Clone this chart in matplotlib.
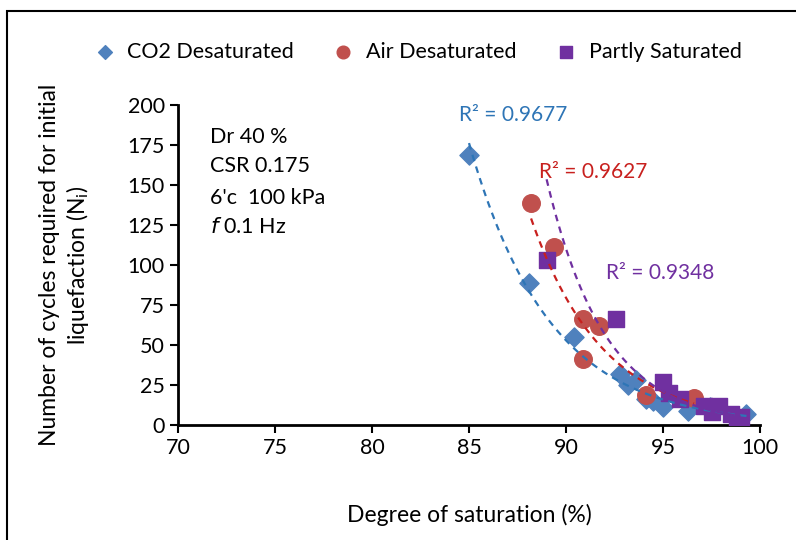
import numpy as np
import matplotlib
matplotlib.use("Agg")
import matplotlib.pyplot as plt
from matplotlib.patches import Rectangle

plt.rcParams['font.family'] = ['Lato', 'DejaVu Sans']

# ---------------------------------------------------------
# DATI
# ---------------------------------------------------------
co2_sr = [85.0, 88.1, 90.4, 92.8, 93.2, 93.6, 94.1, 94.5, 95.0, 96.3, 97.4, 99.3]
co2_n = [169, 89, 55, 32, 25, 28, 16, 15, 11, 9, 11, 7]

air_sr = [88.2, 89.4, 90.9, 91.7, 90.9, 94.1, 96.6]
air_n = [139, 111, 66, 62, 41, 19, 17]

part_sr = [89.0, 92.6, 95.0, 95.3, 95.9, 97.1, 97.5, 97.9, 98.5, 99.0, 98.8]
part_n = [103, 66, 27, 20, 16, 12, 8, 12, 7, 5, 3]

r2_labels = ["R² = 0.9677", "R² = 0.9627", "R² = 0.9348"]

C_BLUE = "#4F81BD"
C_RED = "#C0504D"
C_PURPLE = "#7030A0"
T_BLUE = "#2E75B6"
T_RED = "#C8201E"


def exp_trend(x, y):
    # trendline esponenziale come in Excel (fit lineare su ln y)
    b, a = np.polyfit(x, np.log(y), 1)
    xs = np.linspace(min(x), max(x), 100)
    return xs, np.exp(a + b * xs)


fig = plt.figure(figsize=(7.96, 5.40), dpi=100)
ax = fig.add_axes([0.2236, 0.213, 0.7312, 0.5926])

ax.scatter(co2_sr, co2_n, marker="D", s=95, color=C_BLUE, zorder=3, label="CO2 Desaturated")
ax.scatter(air_sr, air_n, marker="o", s=160, color=C_RED, zorder=3, label="Air Desaturated")
ax.scatter(part_sr, part_n, marker="s", s=135, color=C_PURPLE, zorder=3, label="Partly Saturated")

for (x, y), c in zip([(co2_sr, co2_n), (air_sr, air_n), (part_sr, part_n)],
                     [T_BLUE, T_RED, C_PURPLE]):
    xs, ys = exp_trend(x, y)
    ax.plot(xs, ys, linestyle=(0, (3, 2.5)), color=c, lw=1.6, zorder=4)

ax.text(87.3, 194, r2_labels[0], color=T_BLUE, fontsize=15, ha="center", va="center")
ax.text(91.4, 158, r2_labels[1], color=T_RED, fontsize=15, ha="center", va="center")
ax.text(94.85, 95, r2_labels[2], color=C_PURPLE, fontsize=15, ha="center", va="center")

# condizioni di prova
ax.text(71.65, 180, "Dr 40 %", fontsize=15.5, va="center")
ax.text(71.65, 162, "CSR 0.175", fontsize=15.5, va="center")
ax.text(71.65, 142, "6'c  100 kPa", fontsize=15.5, va="center")
ax.text(71.65, 124, "$f$ 0.1 Hz", fontsize=15.5, va="center")

ax.set_xlim(70, 100)
ax.set_ylim(0, 200)
ax.set_xticks(range(70, 101, 5))
ax.set_yticks(range(0, 201, 25))
ax.tick_params(labelsize=15.5, direction="out", length=6, width=1.5)
for side in ["top", "right"]:
    ax.spines[side].set_visible(False)
for side in ["left", "bottom"]:
    ax.spines[side].set_linewidth(2)

ax.set_xlabel("Degree of saturation (%)", fontsize=16.5, labelpad=33)
ax.set_ylabel("Number of cycles required for initial\nliquefaction (N$_\\mathregular{i}$)",
              fontsize=16.5, labelpad=26, linespacing=1.2)

fig.legend(loc="center", bbox_to_anchor=(0.518, 0.904), ncol=3, frameon=False,
           fontsize=15.5, handletextpad=0.05, columnspacing=1.3, markerscale=0.72)

# bordo del grafico
fig.patches.append(Rectangle((7 / 796, -0.1), 1.2, 1 - 11 / 540 + 0.1,
                             transform=fig.transFigure, fill=False,
                             edgecolor="black", lw=1.5))

fig.savefig("out.png", dpi=100)
